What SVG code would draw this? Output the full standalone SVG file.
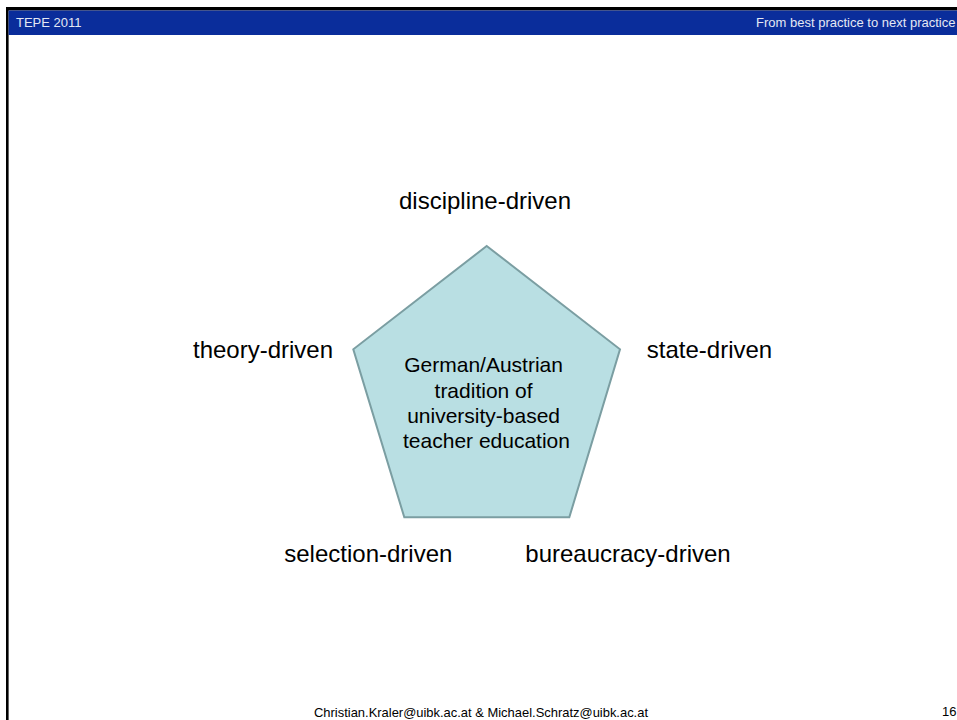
<svg xmlns="http://www.w3.org/2000/svg" width="957" height="720" viewBox="0 0 957 720">
<style>
.t{font-family:"Liberation Sans",Arial,sans-serif;fill:#000}
.lbl{font-size:24px}
.hdr{font-family:"Liberation Sans",Arial,sans-serif;font-size:13px;fill:#e4e8f4}
.ft{font-family:"Liberation Sans",Arial,sans-serif;font-size:13px;fill:#000}
</style>
<rect x="0" y="0" width="957" height="720" fill="#ffffff"/>
<g id="frame">
<rect x="6" y="7" width="951" height="3.5" fill="#000"/>
<rect x="6" y="7" width="2.6" height="713" fill="#000"/>
<rect x="8.6" y="10.5" width="948.4" height="24.5" fill="#0a2d9b"/>
<text class="hdr" x="16" y="26.7">TEPE 2011</text>
<text class="hdr" x="955.5" y="26.7" text-anchor="end">From best practice to next practice</text>
</g>
<g id="connectors"></g>
<g id="center">
<polygon points="486.7,246 620,349.3 569.3,517.3 404.3,517.3 353.3,349.3" fill="#b9dfe3" stroke="#7b9ea2" stroke-width="2" stroke-linejoin="miter"/>
<text class="t" font-size="21" text-anchor="middle">
<tspan x="486.5" y="372.3">German/Austrian</tspan>
<tspan x="486.5" y="397.5">tradition of</tspan>
<tspan x="486.5" y="422.8">university-based</tspan>
<tspan x="486.5" y="448">teacher education</tspan>
</text>
</g>
<g id="discipline"><text class="t lbl" x="485" y="209" text-anchor="middle">discipline-driven</text></g>
<g id="theory"><text class="t lbl" x="263" y="357.5" text-anchor="middle">theory-driven</text></g>
<g id="state"><text class="t lbl" x="709.5" y="357.5" text-anchor="middle">state-driven</text></g>
<g id="selection"><text class="t lbl" x="368.3" y="561.7" text-anchor="middle">selection-driven</text></g>
<g id="bureaucracy"><text class="t lbl" x="628" y="561.7" text-anchor="middle">bureaucracy-driven</text></g>
<g id="footer">
<text class="ft" x="314" y="716.5" textLength="334" lengthAdjust="spacingAndGlyphs">Christian.Kraler@uibk.ac.at &amp; Michael.Schratz@uibk.ac.at</text>
<text class="ft" x="942" y="716">16</text>
</g>
</svg>
